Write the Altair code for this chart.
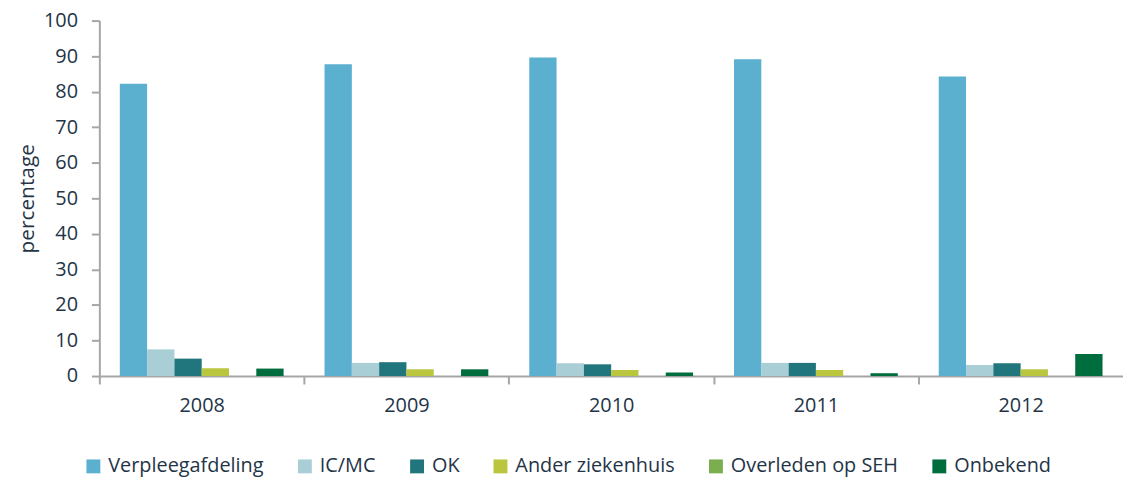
import altair as alt
import pandas as pd

years = ["2008", "2009", "2010", "2011", "2012"]
series = ["Verpleegafdeling", "IC/MC", "OK", "Ander ziekenhuis", "Overleden op SEH", "Onbekend"]
colors = ["#5BAFCF", "#A9CED6", "#21767D", "#B9C63E", "#7AAE4E", "#006D3F"]

verpleegafdeling = [82.2, 87.7, 89.6, 89.1, 84.3]
ic_mc = [7.5, 3.7, 3.6, 3.7, 3.1]
ok = [4.9, 3.9, 3.3, 3.7, 3.6]
ander_ziekenhuis = [2.2, 1.9, 1.7, 1.7, 1.9]
overleden_seh = [0.0, 0.0, 0.0, 0.0, 0.0]
onbekend = [2.1, 1.9, 1.0, 0.8, 6.2]

values = [verpleegafdeling, ic_mc, ok, ander_ziekenhuis, overleden_seh, onbekend]
rows = []
for s, vals in zip(series, values):
    for y, v in zip(years, vals):
        rows.append({"jaar": y, "serie": s, "waarde": v})
df = pd.DataFrame(rows)

FONT = "Open Sans"
TXT = "#243447"
AXC = "#A6A6A6"
W = 1031
HALF_STEP = W / len(years) / 2

chart = (
    alt.Chart(df)
    .mark_bar()
    .encode(
        x=alt.X(
            "jaar:N",
            sort=years,
            scale=alt.Scale(paddingInner=0.2, paddingOuter=0.1),
            axis=alt.Axis(
                title=None,
                labelAngle=0,
                tickOffset=-HALF_STEP,
                labelOffset=HALF_STEP,
                tickSize=8,
                tickWidth=2,
                tickColor=AXC,
                domainColor=AXC,
                domainWidth=2,
                labelFont=FONT,
                labelFontSize=20,
                labelColor=TXT,
                labelPadding=12,
            ),
        ),
        xOffset=alt.XOffset("serie:N", sort=series, scale=alt.Scale(paddingInner=0, paddingOuter=0)),
        y=alt.Y(
            "waarde:Q",
            scale=alt.Scale(domain=[0, 100], nice=False),
            axis=alt.Axis(
                title="percentage",
                values=list(range(0, 101, 10)),
                grid=False,
                tickSize=8,
                tickWidth=2,
                tickColor=AXC,
                domainColor=AXC,
                domainWidth=2,
                labelFont=FONT,
                labelFontSize=20,
                labelColor=TXT,
                labelPadding=14,
                titleFont=FONT,
                titleFontSize=21,
                titleFontWeight="normal",
                titleColor=TXT,
                titlePadding=6,
            ),
        ),
        color=alt.Color(
            "serie:N",
            sort=series,
            scale=alt.Scale(domain=series, range=colors),
            legend=alt.Legend(
                title=None,
                orient="none",
                direction="horizontal",
                legendX=-16,
                legendY=439,
                padding=0,
                symbolType="square",
                symbolSize=196,
                symbolStrokeWidth=0,
                symbolOpacity=1,
                labelFont=FONT,
                labelFontSize=20,
                labelColor=TXT,
                labelOffset=5,
                columnPadding=31,
                labelLimit=400,
            ),
        ),
    )
    .properties(
        width=W,
        height=358,
        autosize=alt.AutoSizeParams(type="none"),
        padding={"left": 92, "top": 11, "right": 0, "bottom": 101},
    )
    .configure_view(stroke=None)
)

chart.save("out.html", embed_options={"renderer": "svg", "actions": False})
